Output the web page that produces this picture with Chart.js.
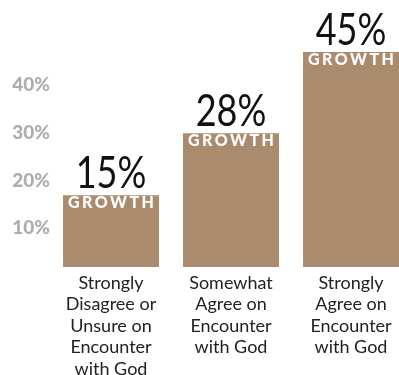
<!DOCTYPE html>
<html>
<head>
<meta charset="utf-8">
<script src="https://cdn.jsdelivr.net/npm/chart.js@4"></script>
<style>
    html, body { margin: 0; padding: 0; background: #fff; overflow: hidden; }
    .chart-box { width: 420px; height: 375px; }
</style>
</head>
<body>
<div class="chart-box"><canvas id="growthChart"></canvas></div>
<script>
// Chart data
const categories = [
    ['Strongly', 'Disagree or', 'Unsure on', 'Encounter', 'with God'],
    ['Somewhat', 'Agree on', 'Encounter', 'with God'],
    ['Strongly', 'Agree on', 'Encounter', 'with God']
];
const growth = [15, 28, 45];
const yTicks = [10, 20, 30, 40];
const badgeText = 'GROWTH';

// Big percentage above each bar plus the white badge inside its top
const barLabels = {
    id: 'barLabels',
    afterDatasetsDraw(chart) {
        const ctx = chart.ctx;
        const meta = chart.getDatasetMeta(0);
        meta.data.forEach((bar, i) => {
            ctx.save();
            ctx.textAlign = 'center';
            ctx.textBaseline = 'alphabetic';
            ctx.fillStyle = '#111';
            ctx.font = '400 45px Lato';
            // squeeze the numbers a bit horizontally
            ctx.translate(bar.x, bar.y - 7);
            ctx.scale(0.8, 1);
            ctx.fillText(growth[i] + '%', 0, 0);
            ctx.restore();

            ctx.save();
            ctx.textAlign = 'center';
            ctx.fillStyle = '#fff';
            ctx.font = '900 16px Lato';
            ctx.letterSpacing = '2.5px';
            ctx.textBaseline = 'top';
            ctx.fillText(badgeText, bar.x + 1.2, bar.y);
            ctx.restore();
        });
    }
};

document.addEventListener('DOMContentLoaded', function() {
    const ctx = document.getElementById('growthChart').getContext('2d');
    new Chart(ctx, {
        type: 'bar',
        data: {
            labels: categories,
            datasets: [{
                data: growth,
                backgroundColor: '#aa8b6e',
                borderWidth: 0,
                barPercentage: 0.8,
                categoryPercentage: 1.0
            }]
        },
        options: {
            responsive: true,
            maintainAspectRatio: false,
            devicePixelRatio: 1,
            animation: false,
            layout: {
                padding: { top: 28, right: 9, left: 0, bottom: 0 }
            },
            plugins: {
                legend: { display: false },
                tooltip: { enabled: false }
            },
            scales: {
                x: {
                    grid: { display: false, drawTicks: false },
                    border: { display: false },
                    ticks: {
                        color: '#222',
                        padding: 5,
                        maxRotation: 0,
                        font: { family: 'Lato', size: 18, lineHeight: 1.2 }
                    },
                    afterFit: function(scale) { scale.height = 108; }
                },
                y: {
                    min: 0,
                    max: 50,
                    grid: { display: false, drawTicks: false },
                    border: { display: false },
                    afterBuildTicks: function(scale) {
                        scale.ticks = yTicks.map(v => ({ value: v }));
                    },
                    ticks: {
                        color: '#adadad',
                        padding: 1,
                        labelOffset: 9,
                        font: { family: 'Lato', size: 19, weight: '900' },
                        callback: v => v + '%'
                    },
                    afterFit: function(scale) { scale.width = 51; }
                }
            }
        },
        plugins: [barLabels]
    });
});
</script>
</body>
</html>
